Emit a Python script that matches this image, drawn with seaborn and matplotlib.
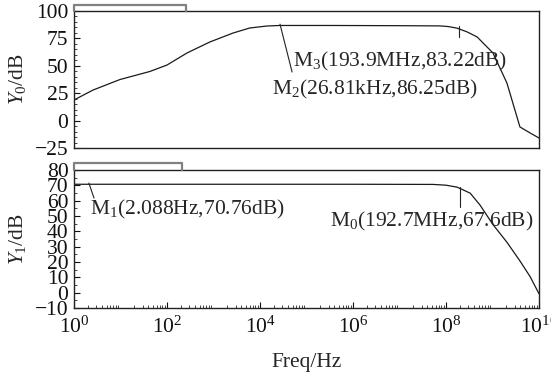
import numpy as np
import pandas as pd
import matplotlib
matplotlib.use("Agg")
import matplotlib.pyplot as plt
import seaborn as sns
from matplotlib.lines import Line2D
from matplotlib.ticker import LogFormatterMathtext, MultipleLocator, LogLocator, NullFormatter

# ---- data ----
y0_logf = [0.0, 0.41, 0.99, 1.35, 1.63, 2.0, 2.43, 2.92, 3.42, 3.78, 4.15, 4.43, 5.5, 7.0, 7.87,
           8.05, 8.24, 8.45, 8.67, 9.01, 9.31, 9.59, 9.81, 10.0]
y0_db = [18.8, 27.9, 37.5, 41.6, 44.8, 50.7, 61.7, 71.7, 79.9, 84.5, 86.3, 86.8, 86.8, 86.6, 86.4,
         85.8, 84.3, 81.0, 76.3, 61.7, 34.3, -5.8, -11.3, -15.9]
y1_logf = [0.0, 2.0, 4.0, 6.0, 7.72, 8.0, 8.24, 8.52, 8.73, 9.01, 9.31, 9.59, 9.81, 10.0]
y1_db = [70.7, 70.7, 70.7, 70.7, 70.6, 70.1, 68.8, 64.9, 57.2, 44.4, 32.9, 20.7, 10.4, -0.7]

markers_top = ["M$_3$(193.9MHz,83.22dB)", "M$_2$(26.81kHz,86.25dB)"]
markers_bot = ["M$_1$(2.088Hz,70.76dB)", "M$_0$(192.7MHz,67.6dB)"]
xticks = [1e0, 1e2, 1e4, 1e6, 1e8, 1e10]
y0_ticks = [-25, 0, 25, 50, 75, 100]
y1_ticks = [-10, 0, 10, 20, 30, 40, 50, 60, 70, 80]

df0 = pd.DataFrame({"f": np.power(10.0, y0_logf), "db": y0_db})
df1 = pd.DataFrame({"f": np.power(10.0, y1_logf), "db": y1_db})

sns.set_theme(style="ticks")
plt.rcParams["font.family"] = ["Liberation Serif", "DejaVu Serif"]
plt.rcParams["mathtext.fontset"] = "custom"
plt.rcParams["mathtext.rm"] = "Liberation Serif"
plt.rcParams["mathtext.it"] = "Liberation Serif:italic"
plt.rcParams["mathtext.bf"] = "Liberation Serif:bold"

W, H = 551, 376
fig = plt.figure(figsize=(W / 100, H / 100), dpi=100)

def fr(x0, y0, x1, y1):
    return [x0 / W, 1 - y1 / H, (x1 - x0) / W, (y1 - y0) / H]

ax0 = fig.add_axes(fr(74, 11, 539, 148))
ax1 = fig.add_axes(fr(74, 170, 539, 308))

FS = 15.5
for ax, df, yl, yt in [(ax0, df0, (-25, 100), y0_ticks), (ax1, df1, (-10, 79), y1_ticks)]:
    sns.lineplot(data=df, x="f", y="db", ax=ax, color="#1a1a1a", lw=0.9)
    ax.set_xscale("log")
    ax.set_xlim(1, 1e10)
    ax.set_ylim(*yl)
    ax.set_yticks(yt)
    ax.set_xticks(xticks)
    ax.xaxis.set_major_formatter(LogFormatterMathtext())
    ax.xaxis.set_minor_locator(LogLocator(base=10, subs=np.arange(2, 10), numticks=100))
    ax.xaxis.set_minor_formatter(NullFormatter())
    ax.tick_params(axis="both", which="major", direction="in", length=4, width=0.8,
                   labelsize=FS, pad=4, colors="#111111")
    ax.tick_params(axis="both", which="minor", direction="in", length=2, width=0.6)
    ax.tick_params(axis="x", which="major", pad=6)
    for s in ax.spines.values():
        s.set_visible(True)
        s.set_linewidth(1.0)
        s.set_color("#222222")
    ax.set_xlabel("")

ax0.yaxis.set_minor_locator(MultipleLocator(5))
ax1.yaxis.set_minor_locator(MultipleLocator(5))
ax0.tick_params(axis="x", which="both", length=0, labelbottom=False)

ax0.set_ylabel("$Y_0$/dB", fontsize=FS)
ax1.set_ylabel("$Y_1$/dB", fontsize=FS)
ax0.yaxis.set_label_coords(-0.10, 0.5)
ax1.yaxis.set_label_coords(-0.10, 0.5)
ax1.set_xlabel("Freq/Hz", fontsize=FS, labelpad=11)

# markers (top)
ax0.plot([10**4.43, 10**4.69], [88.0, 44.3], color="#222222", lw=0.8)
ax0.plot([10**8.28, 10**8.28], [86.3, 76.3], color="#222222", lw=0.8)
ax0.text(10**4.71, 53.5, markers_top[0], fontsize=FS, va="center", ha="left")
ax0.text(10**4.26, 28.5, markers_top[1], fontsize=FS, va="center", ha="left")
# markers (bottom)
ax1.plot([10**0.32, 10**0.43], [71.5, 61.7], color="#222222", lw=0.8)
ax1.plot([10**8.30, 10**8.30], [68.8, 56.0], color="#222222", lw=0.8)
ax1.text(10**0.34, 54.5, markers_bot[0], fontsize=FS, va="center", ha="left")
ax1.text(10**5.5, 46.3, markers_bot[1], fontsize=FS, va="center", ha="left")

# raised frame steps on the left of each panel
def fl(xs, ys):
    fig.add_artist(Line2D([x / W for x in xs], [1 - y / H for y in ys],
                          transform=fig.transFigure, color="#808080", lw=1.6))
fl([74, 74, 186, 186], [11, 5, 5, 11])
fl([74, 74, 182, 182], [170, 163, 163, 170])

fig.savefig("out.png", dpi=100)
